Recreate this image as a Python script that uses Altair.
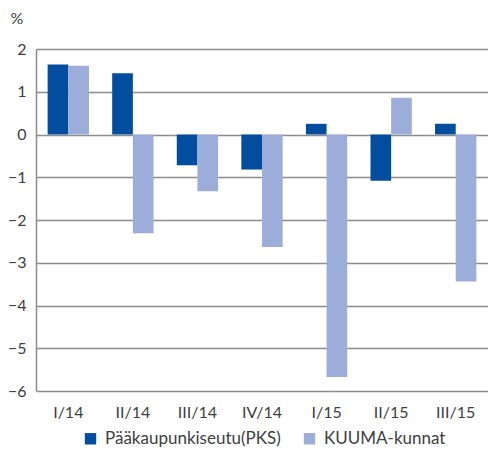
import altair as alt
import pandas as pd

quarters = ["I/14", "II/14", "III/14", "IV/14", "I/15", "II/15", "III/15"]
pks = [1.64, 1.43, -0.72, -0.82, 0.25, -1.08, 0.25]
kuuma = [1.61, -2.31, -1.33, -2.63, -5.67, 0.86, -3.44]
series = ["Pääkaupunkiseutu(PKS)", "KUUMA-kunnat"]
colors = ["#024D9E", "#9BADD8"]
y_ticks = [2, 1, 0, -1, -2, -3, -4, -5, -6]

rows = []
for q, a, b in zip(quarters, pks, kuuma):
    rows.append({"q": q, "s": series[0], "v": a})
    rows.append({"q": q, "s": series[1], "v": b})
df = pd.DataFrame(rows)

FONT = "Lato"
TXT = "#404040"

chart = alt.Chart(df).mark_bar().encode(
    x=alt.X("q:N", sort=quarters,
            scale=alt.Scale(paddingInner=0.36, paddingOuter=0.18),
            axis=alt.Axis(title=None, labelAngle=0, ticks=False, domain=False,
                          labelFontSize=16, labelColor=TXT, labelPadding=13,
                          labelFont=FONT)),
    xOffset=alt.XOffset("s:N", sort=series, scale=alt.Scale(paddingInner=0, paddingOuter=0)),
    y=alt.Y("v:Q", scale=alt.Scale(domain=[-6, 2], nice=False),
            axis=alt.Axis(values=y_ticks, ticks=False, domain=True, domainColor="#8C8C8C",
                          domainWidth=1.5, gridColor="#8C8C8C", gridWidth=1.5,
                          labelFontSize=16, labelColor=TXT, labelPadding=10,
                          labelFont=FONT,
                          title="%", titleAngle=0, titleX=-26, titleY=-31,
                          titleAlign="left", titleBaseline="middle",
                          titleFontSize=16, titleFontWeight="normal",
                          titleColor=TXT, titleFont=FONT)),
    color=alt.Color("s:N", sort=series,
                    scale=alt.Scale(domain=series, range=colors),
                    legend=alt.Legend(title=None, orient="none", direction="horizontal",
                                      legendX=46, legendY=381, symbolType="square",
                                      symbolSize=130, symbolStrokeWidth=0,
                                      labelFontSize=17, labelColor=TXT, labelLimit=400,
                                      labelFont=FONT, columnPadding=20, labelOffset=6)),
).properties(
    width=452, height=342,
    autosize=alt.AutoSizeParams(type="none"),
    padding={"left": 28, "top": 41, "right": 0, "bottom": 58},
).configure_view(stroke=None)

chart.save("out.html", embed_options={"renderer": "svg", "actions": False})
